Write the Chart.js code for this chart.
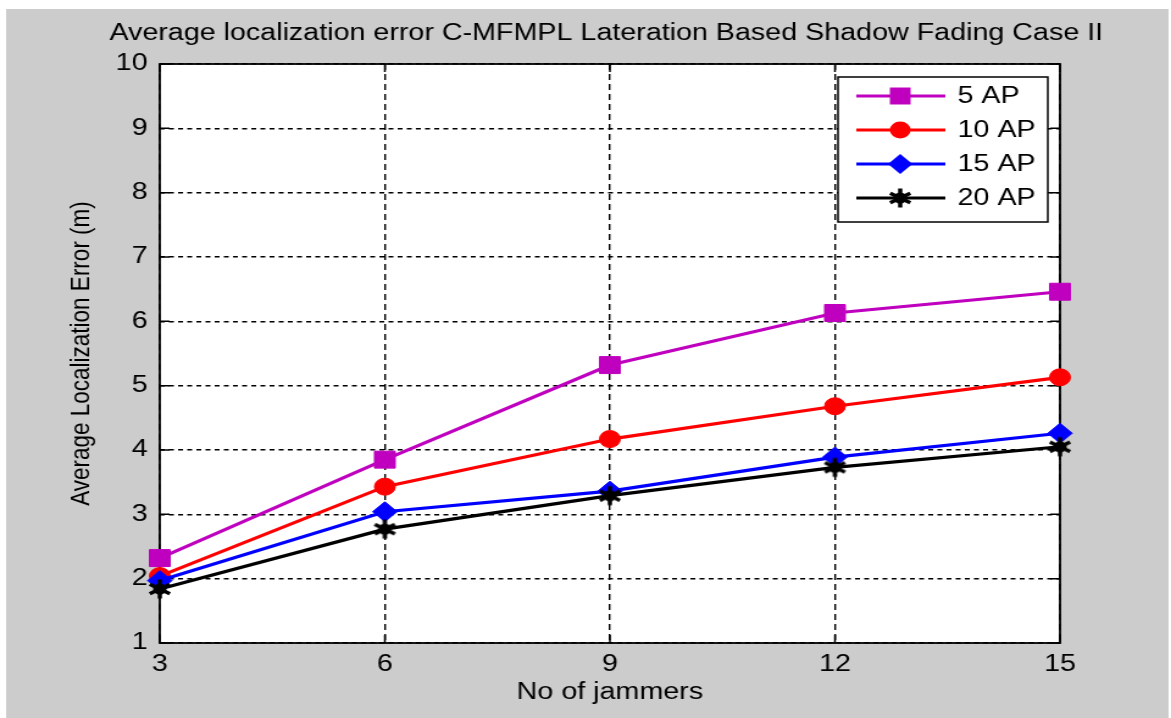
<!DOCTYPE html>
<html><head><meta charset="utf-8">
<script src="https://cdn.jsdelivr.net/npm/chart.js"></script>
<style>
html,body{margin:0;padding:0;background:#fff;overflow:hidden;}
#wrap{position:absolute;left:0;top:0;width:960px;height:718px;transform:scaleX(1.2198);transform-origin:0 0;}
</style></head><body>
<div id="wrap"><canvas id="c"></canvas></div>
<script>
const jammers = [3, 6, 9, 12, 15];
const seriesLabels = ['5 AP', '10 AP', '15 AP', '20 AP'];
const ap5  = [2.32, 3.85, 5.32, 6.13, 6.46];
const ap10 = [2.04, 3.43, 4.17, 4.68, 5.13];
const ap15 = [1.97, 3.04, 3.36, 3.89, 4.26];
const ap20 = [1.84, 2.77, 3.29, 3.73, 4.05];
const xTicks = [3, 6, 9, 12, 15];
const yTicks = [1, 2, 3, 4, 5, 6, 7, 8, 9, 10];
const titleText = 'Average localization error C-MFMPL Lateration Based Shadow Fading Case II';
const xTitle = 'No of jammers';
const yTitle = 'Average Localization Error (m)';

const FONT = '"Liberation Sans", Arial, sans-serif';
const seriesValues = [ap5, ap10, ap15, ap20];
const colors = ['#bf00bf', '#ff0000', '#0000ff', '#000000'];

function makeStar() {
  const c = document.createElement('canvas'); c.width = 24; c.height = 24;
  const g = c.getContext('2d');
  g.strokeStyle = '#000'; g.lineWidth = 3.5;
  const cx = 12, cy = 12, r = 9.5;
  g.beginPath();
  for (const a of [90, 30, -30]) {
    const t = a * Math.PI / 180;
    g.moveTo(cx - r * Math.cos(t), cy - r * Math.sin(t));
    g.lineTo(cx + r * Math.cos(t), cy + r * Math.sin(t));
  }
  g.stroke();
  g.beginPath(); g.arc(cx, cy, 5.5, 0, 2 * Math.PI); g.fillStyle = '#000'; g.fill();
  return c;
}
const starCanvas = makeStar();
const styles = ['rect', 'circle', 'rectRot', starCanvas];
const radii = [12, 8.5, 10, 10];

const datasets = seriesValues.map((vals, i) => ({
  label: seriesLabels[i],
  data: jammers.map((x, j) => ({x: x, y: vals[j]})),
  borderColor: colors[i],
  backgroundColor: colors[i],
  pointBackgroundColor: colors[i],
  pointBorderColor: colors[i],
  pointStyle: styles[i],
  pointRadius: radii[i],
  pointHoverRadius: radii[i],
  pointBorderWidth: 1,
  borderWidth: 3.2,
  tension: 0,
  order: 4 - i,
  clip: false,
  yAxisID: 'y'
}));

function drawMarker(ctx, i, x, y) {
  const r = radii[i];
  ctx.fillStyle = colors[i];
  if (i === 0) {
    const s = Math.SQRT1_2 * r;
    ctx.fillRect(x - s, y - s, 2 * s, 2 * s);
  } else if (i === 1) {
    ctx.beginPath(); ctx.arc(x, y, r, 0, 2 * Math.PI); ctx.fill();
  } else if (i === 2) {
    ctx.beginPath(); ctx.moveTo(x - r, y); ctx.lineTo(x, y - r); ctx.lineTo(x + r, y); ctx.lineTo(x, y + r); ctx.closePath(); ctx.fill();
  } else {
    ctx.drawImage(starCanvas, x - starCanvas.width / 2, y - starCanvas.height / 2);
  }
}

const deco = {
  id: 'deco',
  beforeDraw(chart) {
    const {ctx, width, height, chartArea: a} = chart;
    ctx.save();
    ctx.fillStyle = '#ffffff'; ctx.fillRect(0, 0, width, height);
    ctx.fillStyle = '#cccccc'; ctx.fillRect(5, 9, 953, height - 9);
    ctx.fillStyle = '#ffffff'; ctx.fillRect(a.left, a.top, a.right - a.left, a.bottom - a.top);
    ctx.restore();
  },
  beforeDatasetsDraw(chart) {
    const {ctx, chartArea: a, scales} = chart;
    ctx.save();
    ctx.strokeStyle = '#000'; ctx.lineWidth = 1.5;
    ctx.beginPath();
    scales.x.ticks.forEach(t => {
      const px = scales.x.getPixelForValue(t.value);
      ctx.moveTo(px, a.bottom); ctx.lineTo(px, a.bottom - 8);
      ctx.moveTo(px, a.top); ctx.lineTo(px, a.top + 8);
    });
    scales.y.ticks.forEach(t => {
      const py = scales.y.getPixelForValue(t.value);
      ctx.moveTo(a.left, py); ctx.lineTo(a.left + 8, py);
      ctx.moveTo(a.right, py); ctx.lineTo(a.right - 8, py);
    });
    ctx.stroke();
    ctx.lineWidth = 1.8;
    ctx.strokeRect(a.left, a.top, a.right - a.left, a.bottom - a.top);
    ctx.restore();
  },
  afterDatasetsDraw(chart) {
    const {ctx, chartArea: a} = chart;
    const bw = 172, bh = 145;
    const bx = a.right - 10 - bw, by = a.top + 13;
    ctx.save();
    ctx.fillStyle = '#fff'; ctx.fillRect(bx, by, bw, bh);
    ctx.strokeStyle = '#000'; ctx.lineWidth = 1.5; ctx.strokeRect(bx, by, bw, bh);
    chart.data.datasets.forEach((ds, i) => {
      const y = by + 19 + i * 34;
      ctx.strokeStyle = colors[i]; ctx.lineWidth = 3.2;
      ctx.beginPath(); ctx.moveTo(bx + 15, y); ctx.lineTo(bx + 88, y); ctx.stroke();
      drawMarker(ctx, i, bx + 51, y);
      ctx.fillStyle = '#000';
      ctx.font = '23.5px ' + FONT;
      ctx.textBaseline = 'middle'; ctx.textAlign = 'left';
      ctx.fillText(ds.label, bx + 98, y + 1);
    });
    ctx.restore();
  }
};

new Chart(document.getElementById('c'), {
  type: 'line',
  data: {datasets: datasets},
  plugins: [deco],
  options: {
    responsive: true,
    maintainAspectRatio: false,
    animation: false,
    layout: {padding: {left: 39, right: 5, top: 9, bottom: 0}},
    plugins: {
      legend: {display: false},
      tooltip: {enabled: false},
      title: {
        display: true, text: titleText, fullSize: true, color: '#000',
        font: {family: FONT, size: 23.5, weight: 'normal', lineHeight: 1.2},
        padding: {top: 10.4, bottom: 16.4}
      }
    },
    scales: {
      x: {
        type: 'linear', min: 3, max: 15,
        afterBuildTicks: s => { s.ticks = xTicks.map(v => ({value: v})); },
        afterFit: s => { s.height = 75; },
        ticks: {color: '#000', padding: 7, font: {family: FONT, size: 23.5}, maxRotation: 0, autoSkip: false},
        grid: {color: '#000', lineWidth: 1.4, drawTicks: false},
        border: {display: false, dash: [6, 4]},
        title: {display: true, text: xTitle, color: '#000', font: {family: FONT, size: 23.5}, padding: {top: 0, bottom: 11.4}}
      },
      y: {
        type: 'linear', position: 'left', min: 1, max: 10,
        afterBuildTicks: s => { s.ticks = yTicks.map(v => ({value: v})); },
        afterFit: s => { s.width = 92; },
        ticks: {color: '#000', padding: 10, font: {family: FONT, size: 23.5}, autoSkip: false},
        grid: {color: '#000', lineWidth: 1.6, drawTicks: false},
        border: {display: false, dash: [4, 3.5]},
        title: {display: true, text: yTitle, color: '#000', font: {family: FONT, size: 22.5}, padding: {top: 14.3, bottom: 0}}
      },
      yRightSpace: {
        type: 'linear', position: 'right', min: 1, max: 10,
        afterFit: s => { s.width = 86; },
        ticks: {display: false},
        grid: {display: false, drawOnChartArea: false, drawTicks: false},
        border: {display: false}
      }
    }
  }
});
</script>
</body></html>
